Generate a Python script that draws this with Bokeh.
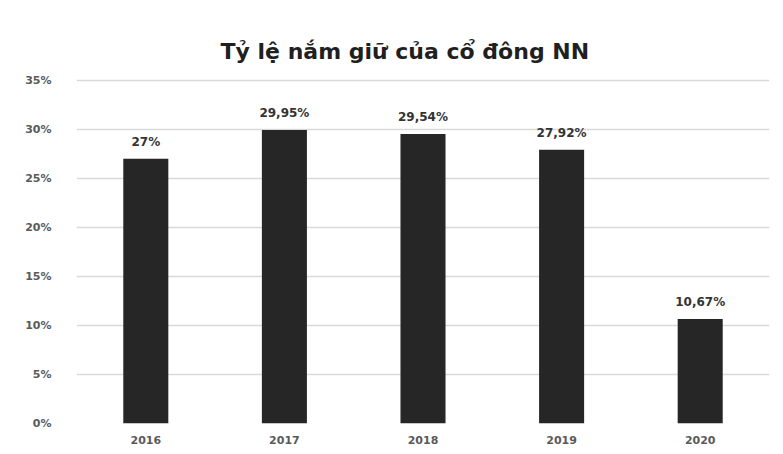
from bokeh.plotting import figure
from bokeh.models import ColumnDataSource, FixedTicker, Range1d
from bokeh.core.properties import value
from bokeh.embed import file_html
from bokeh.resources import INLINE

years = ["2016", "2017", "2018", "2019", "2020"]
shares = [27.0, 29.95, 29.54, 27.92, 10.67]
share_labels = ["27%", "29,95%", "29,54%", "27,92%", "10,67%"]
y_ticks = [0, 5, 10, 15, 20, 25, 30, 35]
y_tick_labels = {0: "0%", 5: "5%", 10: "10%", 15: "15%", 20: "20%", 25: "25%", 30: "30%", 35: "35%"}
chart_title = "Tỷ lệ nắm giữ của cổ đông NN"

src = ColumnDataSource(dict(year=years, share=shares, lab=share_labels))

p = figure(x_range=years, y_range=Range1d(0, 35.3), width=775, height=446,
           output_backend="svg", toolbar_location=None,
           min_border_left=76, min_border_right=6, min_border_top=77, min_border_bottom=23)

p.vbar(x="year", top="share", width=0.325, source=src, fill_color="#262626", line_color=None)
p.text(x="year", y="share", text="lab", source=src, text_align="center", text_baseline="bottom",
       y_offset=-10, text_font=value("DejaVu Sans"), text_font_size="12px",
       text_font_style="bold", text_color="#333333")

p.title.text = chart_title
p.title.align = "left"
p.title.offset = 144
p.title.standoff = 28
p.title.text_font = "DejaVu Sans"
p.title.text_font_size = "22px"
p.title.text_font_style = "bold"
p.title.text_color = "#1f1f1f"

p.yaxis.ticker = FixedTicker(ticks=y_ticks)
p.yaxis.major_label_overrides = y_tick_labels
p.axis.axis_line_color = None
p.axis.major_tick_line_color = None
p.axis.minor_tick_line_color = None
p.yaxis.major_label_standoff = 19
p.xaxis.major_label_standoff = 6
p.axis.major_label_text_font = "DejaVu Sans"
p.axis.major_label_text_font_size = "11px"
p.axis.major_label_text_font_style = "bold"
p.axis.major_label_text_color = "#5a5a5a"
p.xgrid.grid_line_color = None
p.ygrid.grid_line_color = "#d9d9d9"
p.ygrid.grid_line_width = 1.5
p.outline_line_color = None

open("out.html", "w").write(file_html(p, INLINE))
